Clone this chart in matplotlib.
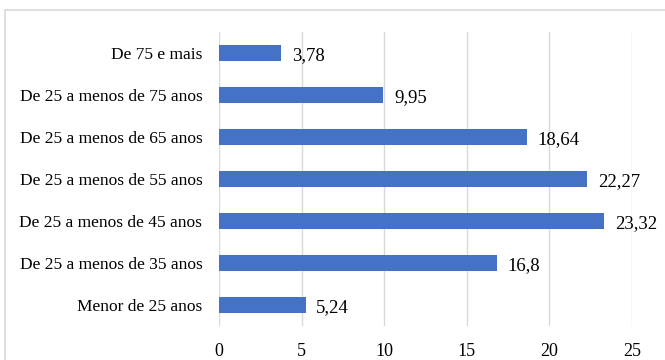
import matplotlib
matplotlib.use("Agg")
import matplotlib.pyplot as plt
from matplotlib.patches import Rectangle

categories = ["Menor de 25 anos", "De 25 a menos de 35 anos", "De 25 a menos de 45 anos",
              "De 25 a menos de 55 anos", "De 25 a menos de 65 anos",
              "De 25 a menos de 75 anos", "De 75 e mais"]
values = [5.24, 16.8, 23.32, 22.27, 18.64, 9.95, 3.78]
value_labels = ["5,24", "16,8", "23,32", "22,27", "18,64", "9,95", "3,78"]
xticks = [0, 5, 10, 15, 20, 25]

plt.rcParams["font.family"] = ["Liberation Serif", "DejaVu Serif"]

fig = plt.figure(figsize=(6.65, 3.6), dpi=100)
ax = fig.add_axes([219 / 665, 1 - 326 / 360, (632 - 219) / 665, (326 - 32) / 360])

# outer chart border (light gray, runs off right/bottom)
fig.patches.append(Rectangle((5 / 665, -0.1), 1.1, 1 - 10 / 360 + 0.1,
                             transform=fig.transFigure, fill=False,
                             edgecolor="#d9d9d9", linewidth=1.2))

y = range(len(categories))
ax.barh(y, values, height=0.36, color="#4472C4", zorder=3)
for yi, v, lab in zip(y, values, value_labels):
    ax.text(v + 0.65, yi - 0.05, lab, va="center", ha="left", fontsize=13.5,
            color="#000000")

ax.set_xlim(0, 25)
ax.set_ylim(-0.5, len(categories) - 0.5)
ax.set_xticks(xticks)
ax.set_yticks(list(y))
ax.set_yticklabels(categories)
ax.tick_params(axis="both", length=0, labelsize=12.5)
ax.tick_params(axis="x", pad=12, labelsize=13)
ax.tick_params(axis="y", pad=12)
ax.grid(axis="x", color="#d9d9d9", linewidth=1.0, zorder=0)
for s in ax.spines.values():
    s.set_visible(False)

fig.savefig("out.png", dpi=100)
